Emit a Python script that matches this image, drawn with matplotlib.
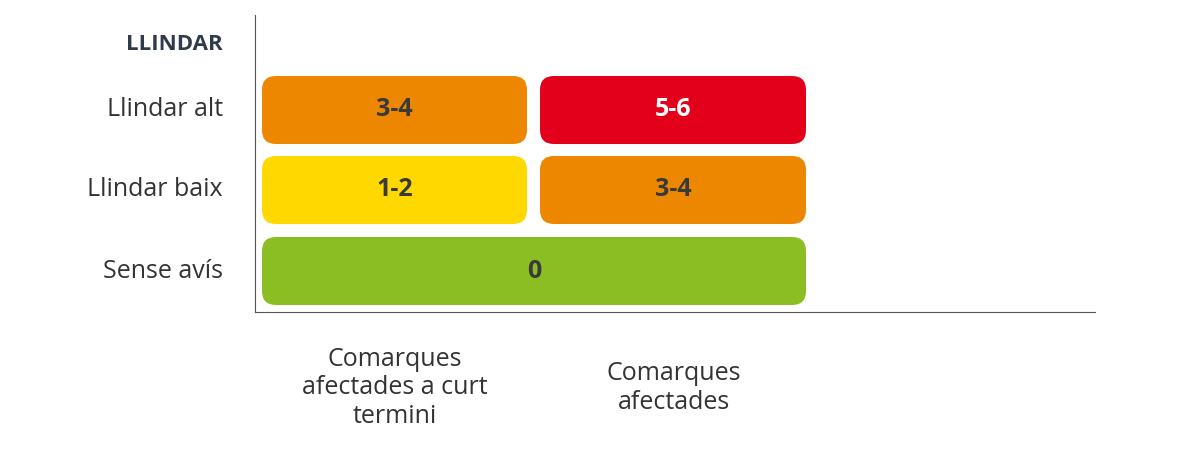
import matplotlib
matplotlib.use("Agg")
import matplotlib.pyplot as plt
from matplotlib.patches import FancyBboxPatch

plt.rcParams['font.family'] = ['Open Sans', 'DejaVu Sans']

row_labels = ["Llindar alt", "Llindar baix", "Sense avís"]
col_labels = ["Comarques\nafectades a curt\ntermini", "Comarques\nafectades"]
cells = [  # (row, first col, last col, label, color, text color)
    (0, 0, 0, "3-4", "#EE8700", "#3a3a3a"),
    (0, 1, 1, "5-6", "#E2001A", "white"),
    (1, 0, 0, "1-2", "#FFD800", "#3a3a3a"),
    (1, 1, 1, "3-4", "#EE8700", "#3a3a3a"),
    (2, 0, 1, "0", "#8BBE23", "#3a3a3a"),
]

fig = plt.figure(figsize=(12, 4.75), dpi=100)
ax = fig.add_axes([255/1200, (475-312)/475, 840/1200, 297/475])
ax.set_xlim(0, 840)
ax.set_ylim(297, 0)
for s in ["top", "right"]:
    ax.spines[s].set_visible(False)
for s in ["left", "bottom"]:
    ax.spines[s].set_color("#555555")
ax.set_xticks([]); ax.set_yticks([])

row_y = [95, 175, 256]
col_x = [(7, 272), (285, 551)]
h = 68
for r, c0, c1, lab, col, tc in cells:
    x0 = col_x[c0][0]; x1 = col_x[c1][1]
    p = FancyBboxPatch((x0+14, row_y[r]-h/2+14), x1-x0-28, h-28,
                       boxstyle="round,pad=14", fc=col, ec="none")
    ax.add_patch(p)
    ax.text((x0+x1)/2, row_y[r], lab, ha="center", va="center",
            fontsize=18, fontweight="bold", color=tc)

ax.text(-32, 30, "LLINDAR", ha="right", va="center", fontsize=16,
        fontweight="bold", color="#2f3b4a", clip_on=False)
for i, lab in enumerate(row_labels):
    ax.text(-32, row_y[i], lab, ha="right", va="center", fontsize=18,
            color="#333333", clip_on=False)

fig.text(395/1200, 1-388/475, col_labels[0], ha="center", va="center",
         fontsize=18, color="#333333", linespacing=1.2)
fig.text(674/1200, 1-388/475, col_labels[1], ha="center", va="center",
         fontsize=18, color="#333333", linespacing=1.2)

fig.savefig("out.png", dpi=100, facecolor="white")
